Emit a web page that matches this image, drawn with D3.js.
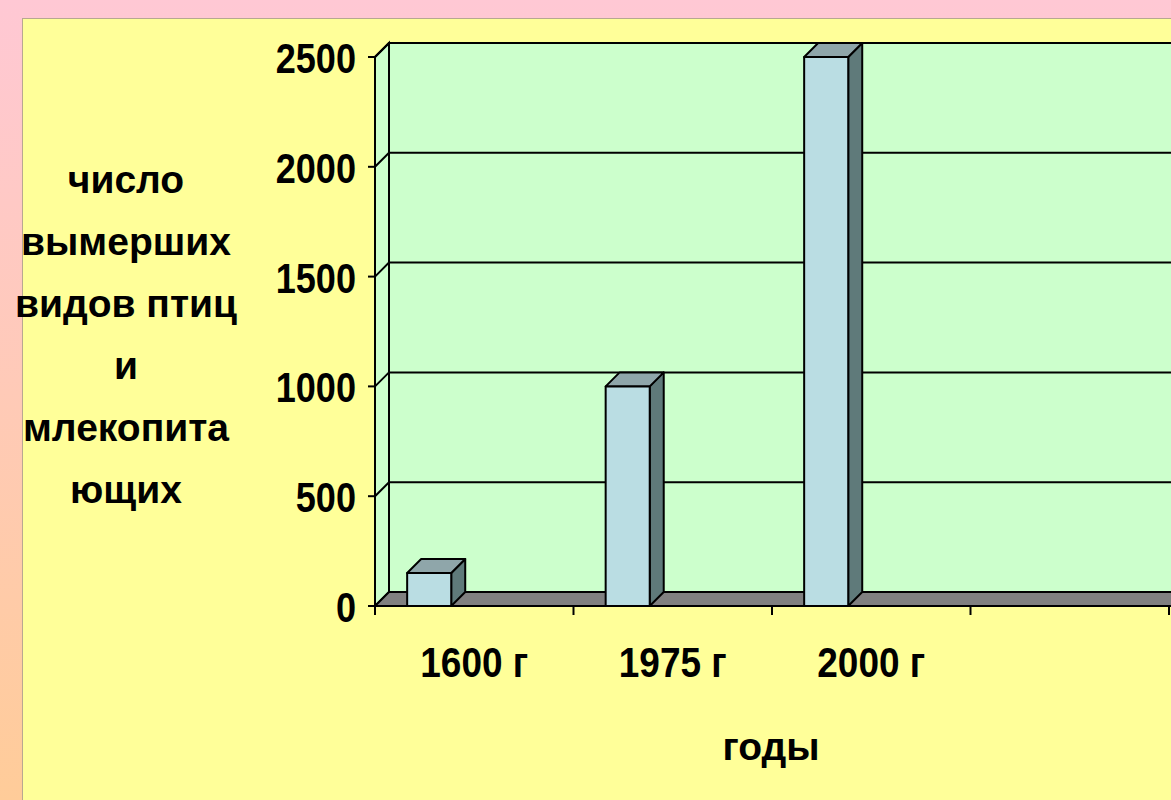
<!DOCTYPE html>
<html><head><meta charset="utf-8">
<script src="https://cdn.jsdelivr.net/npm/d3@7/dist/d3.min.js"></script>
<style>html,body{margin:0;padding:0;overflow:hidden;}svg{display:block;}</style>
</head><body>
<script>
const categories = ["1600 г", "1975 г", "2000 г", ""];
const values = [150, 1000, 2500, null];
const yTicks = [0, 500, 1000, 1500, 2000, 2500];
const yTitle = ["число", "вымерших", "видов птиц", "и", "млекопита", "ющих"];
const xTitle = "годы";

const W = 1171, H = 800;
const svg = d3.select("body").append("svg").attr("width", W).attr("height", H);
const defs = svg.append("defs");
const g = defs.append("linearGradient").attr("id","bg").attr("x1",0).attr("y1",0).attr("x2",0).attr("y2",1);
g.append("stop").attr("offset","0%").attr("stop-color","#ffc8d4");
g.append("stop").attr("offset","100%").attr("stop-color","#ffcc99");
svg.append("rect").attr("width",W).attr("height",H).attr("fill","url(#bg)");
svg.append("rect").attr("x",22.5).attr("y",18.5).attr("width",W).attr("height",H).attr("fill","#ffff99").attr("stroke","#b8a890").attr("stroke-width",1);

const x = d3.scaleBand().domain(categories).range([375, 1169]);
const y = d3.scaleLinear().domain([0, 2500]).range([606, 57]);
const dx = 14, dy = -14;
const xR = 1200;
const stroke = "#000", sw = 2;
const green = "#ccffcc";
const narrow = "'Liberation Sans', Arial, sans-serif";

// back wall
svg.append("rect").attr("x", x.range()[0]+dx).attr("y", y(2500)+dy)
  .attr("width", xR - (x.range()[0]+dx)).attr("height", y(0)-y(2500))
  .attr("fill", green).attr("stroke", stroke).attr("stroke-width", sw);
// side wall
const x0 = x.range()[0];
svg.append("polygon").attr("points", [[x0,y(0)],[x0,y(2500)],[x0+dx,y(2500)+dy],[x0+dx,y(0)+dy]].map(p=>p.join(",")).join(" "))
  .attr("fill", green).attr("stroke", stroke).attr("stroke-width", sw);
// gridlines
yTicks.forEach(v => {
  if (v === 0) return;
  svg.append("polyline").attr("points", [[x0,y(v)],[x0+dx,y(v)+dy],[xR,y(v)+dy]].map(p=>p.join(",")).join(" "))
    .attr("fill","none").attr("stroke", stroke).attr("stroke-width", sw);
});
// floor
svg.append("polygon").attr("points", [[x0,y(0)],[xR,y(0)],[xR,y(0)+dy],[x0+dx,y(0)+dy]].map(p=>p.join(",")).join(" "))
  .attr("fill", "#808080").attr("stroke", stroke).attr("stroke-width", sw);

// bars
const bw = x.bandwidth();
categories.forEach((c, i) => {
  const v = values[i];
  if (v == null) return;
  const bx = x(c) + bw*0.162, bwid = bw*0.222;
  const yt = y(v), yb = y(0);
  const gg = svg.append("g").attr("stroke", stroke).attr("stroke-width", sw).attr("stroke-linejoin","round");
  gg.append("polygon").attr("points", [[bx+bwid,yb],[bx+bwid,yt],[bx+bwid+dx,yt+dy],[bx+bwid+dx,yb+dy]].map(p=>p.join(",")).join(" ")).attr("fill","#5f7a7a");
  gg.append("polygon").attr("points", [[bx,yt],[bx+bwid,yt],[bx+bwid+dx,yt+dy],[bx+dx,yt+dy]].map(p=>p.join(",")).join(" ")).attr("fill","#8fa6aa");
  gg.append("rect").attr("x",bx).attr("y",yt).attr("width",bwid).attr("height",yb-yt).attr("fill","#badde3");
});

// axes
svg.append("line").attr("x1",x0).attr("x2",x0).attr("y1",y(2500)).attr("y2",y(0)).attr("stroke",stroke).attr("stroke-width",sw);
svg.append("line").attr("x1",x0).attr("x2",1169).attr("y1",y(0)).attr("y2",y(0)).attr("stroke",stroke).attr("stroke-width",sw);
yTicks.forEach(v => {
  svg.append("line").attr("x1",x0-7).attr("x2",x0).attr("y1",y(v)).attr("y2",y(v)).attr("stroke",stroke).attr("stroke-width",sw);
  svg.append("text").attr("transform",`translate(356,${y(v)+16}) scale(0.84,1)`).attr("text-anchor","end")
    .attr("font-family",narrow).attr("font-weight","bold").attr("font-size",43)
    .text(v);
});
const bounds = categories.map(c => x(c)).concat([x.range()[1]]);
bounds.forEach(b => {
  svg.append("line").attr("x1",b).attr("x2",b).attr("y1",y(0)).attr("y2",y(0)+9).attr("stroke",stroke).attr("stroke-width",sw);
});
categories.forEach(c => {
  svg.append("text").attr("transform",`translate(${x(c)+bw/2},677) scale(0.86,1)`).attr("text-anchor","middle")
    .attr("font-family",narrow).attr("font-weight","bold").attr("font-size",43)
    .text(c);
});
yTitle.forEach((t, i) => {
  svg.append("text").attr("x",126).attr("y",193 + 62*i).attr("text-anchor","middle")
    .attr("font-family","'Liberation Sans', Arial, sans-serif").attr("font-weight","bold").attr("font-size",39)
    .text(t);
});
svg.append("text").attr("x",771).attr("y",760).attr("text-anchor","middle")
  .attr("font-family","'Liberation Sans', Arial, sans-serif").attr("font-weight","bold").attr("font-size",39)
  .text(xTitle);
</script>
</body></html>
